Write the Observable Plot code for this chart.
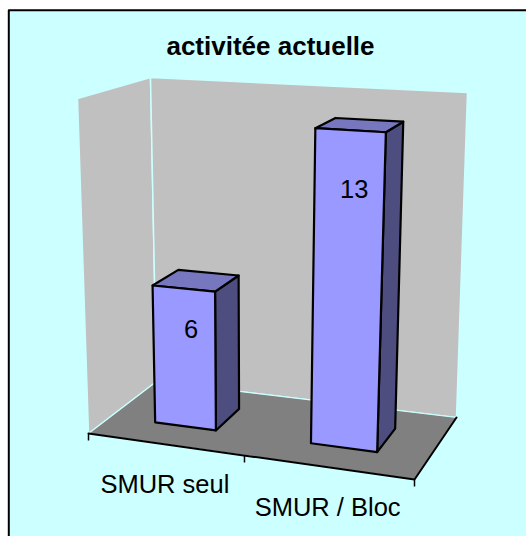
<!DOCTYPE html>
<html>
<head>
<meta charset="utf-8">
<script src="https://cdn.jsdelivr.net/npm/d3@7"></script>
<script src="https://cdn.jsdelivr.net/npm/@observablehq/plot@0.6"></script>
<style>html,body{margin:0;padding:0;background:#fff;overflow:hidden}</style>
</head>
<body>
<div id="chart"></div>
<script>
const title = "activitée actuelle";
const categories = ["SMUR seul", "SMUR / Bloc"];
const values = [6, 13];
const valueMax = 14;

const W = 526, H = 536;
const colors = {bg:"#CCFFFF", wall:"#C0C0C0", floor:"#808080", front:"#9999FF", top:"#7777BF", side:"#4D4D80"};

// The 3D chart box: its eight visible corners on the page
const corner = {
  fl0:[88,433], fr0:[414,479], bl0:[156,381], br0:[456,417],
  fl1:[77,98],  fr1:[428,117], bl1:[150,77],  br1:[467,92]
};
const persp = (t, w) => t / (t + w * (1 - t));
const mix = (a, b, t) => [a[0] + (b[0]-a[0])*t, a[1] + (b[1]-a[1])*t];

const band = d3.scaleBand(categories, [0, 1]).paddingInner(0.6).paddingOuter(0.3);
const val = d3.scaleLinear([0, valueMax], [0, 1]);

// u along categories, d into depth, v up the value axis: all 0..1
function project(u, d, v) {
  const uu = persp(u, 1.09), vv = persp(v, 1.05);
  const f0 = mix(corner.fl0, corner.fr0, uu), b0 = mix(corner.bl0, corner.br0, uu);
  const f1 = mix(corner.fl1, corner.fr1, uu), b1 = mix(corner.bl1, corner.br1, uu);
  return mix(mix(f0, b0, d), mix(f1, b1, d), vv);
}
const face = (pts, options) => Plot.line(pts, {x: p => p[0], y: p => p[1], curve: "linear-closed", ...options});

const marks = [];
// panel
marks.push(face([[8.3,9.7],[W+20,9.7],[W+20,H+20],[8.3,H+20]], {fill: colors.bg, stroke:"#000", strokeWidth:2}));
// walls and floor
const wallStyle = {fill: colors.wall, stroke: colors.bg, strokeWidth: 1.5};
marks.push(face([project(0,0,0), project(0,1,0), project(0,1,1), project(0,0,1)], wallStyle));
marks.push(face([project(0,1,0), project(1,1,0), project(1,1,1), project(0,1,1)], wallStyle));
marks.push(face([project(0,0,0), project(1,0,0), project(1,1,0), project(0,1,0)], {fill: colors.floor, stroke: colors.bg, strokeWidth: 1.2}));
// front axis, right floor edge and ticks
marks.push(Plot.line([project(0,0,0), project(1,0,0), project(1,1,0)], {x:p=>p[0], y:p=>p[1], stroke:"#000", strokeWidth:2}));
marks.push(Plot.link([0, 0.5, 1], {
  x1: u => project(u,0,0)[0], y1: u => project(u,0,0)[1],
  x2: u => project(u,0,0)[0], y2: u => project(u,0,0)[1] + 7,
  stroke:"#000", strokeWidth:1.5
}));
// bars
const d0 = 0.33, d1 = 0.72;
const barStyle = {stroke:"#000", strokeWidth:2.2, strokeLinejoin:"round"};
categories.forEach((c, i) => {
  const u0 = band(c), u1 = u0 + band.bandwidth(), v = val(values[i]);
  marks.push(face([project(u1,d0,0), project(u1,d1,0), project(u1,d1,v), project(u1,d0,v)], {fill: colors.side, ...barStyle}));
  marks.push(face([project(u0,d0,v), project(u1,d0,v), project(u1,d1,v), project(u0,d1,v)], {fill: colors.top, ...barStyle}));
  marks.push(face([project(u0,d0,0), project(u1,d0,0), project(u1,d0,v), project(u0,d0,v)], {fill: colors.front, ...barStyle}));
});
const textStyle = {fontFamily:"Liberation Sans, Arial, sans-serif", fill:"#000"};
// value labels
const uMid = c => band(c) + band.bandwidth()/2;
const labelPos = i => project(uMid(categories[i]), 0.44, val(values[i]*0.923 - 1.518));
marks.push(Plot.text(values, {
  x: (d,i) => labelPos(i)[0], y: (d,i) => labelPos(i)[1],
  text: d => String(d), fontSize:25.5, ...textStyle
}));
// category labels
marks.push(Plot.text(categories, {
  x: c => project(uMid(c),0,0)[0], y: c => project(uMid(c),0,0)[1],
  text: c => c, dy: 41, fontSize:25.5, ...textStyle
}));
// title
marks.push(Plot.text([title], {
  frameAnchor:"top", lineAnchor:"top", dx:7, dy:36, text:d=>d, fontSize:26, fontWeight:"bold", ...textStyle
}));

const chart = Plot.plot({
  width: W, height: H,
  margin: 0,
  x: {type:"linear", domain:[0,W], range:[0,W], axis:null},
  y: {type:"linear", domain:[0,H], range:[0,H], axis:null},
  style: {background:"transparent", display:"block"},
  marks
});
document.getElementById("chart").append(chart);
</script>
</body>
</html>
